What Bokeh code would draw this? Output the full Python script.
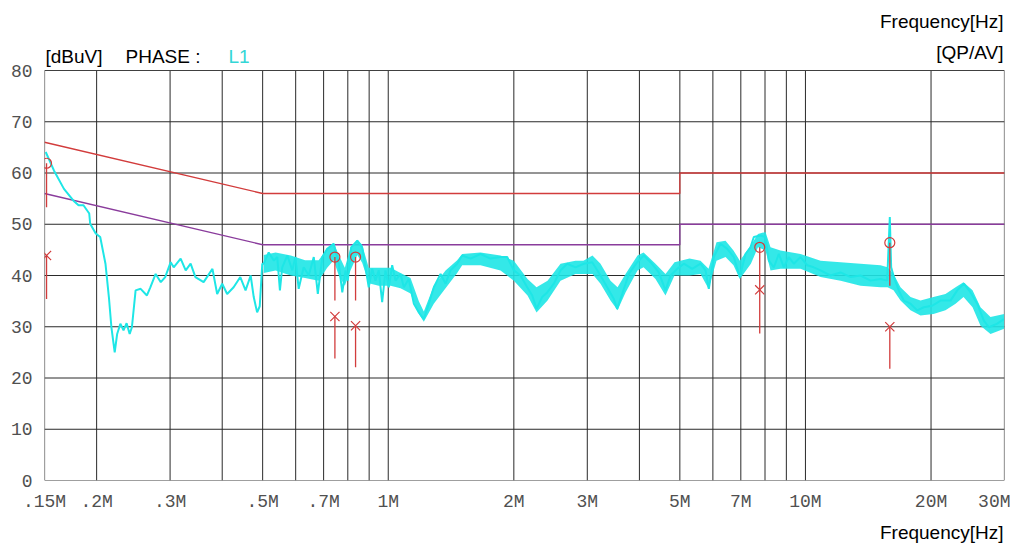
from bokeh.plotting import figure
from bokeh.models import FixedTicker, Range1d
from bokeh.layouts import column
from bokeh.core.properties import value
from bokeh.embed import file_html
from bokeh.resources import INLINE

# ---- data (MHz, dBuV) ----
trace_freq = [0.151, 0.158, 0.167, 0.176, 0.181, 0.186, 0.192, 0.193, 0.199, 0.204,
              0.210, 0.214, 0.217, 0.221, 0.224, 0.228, 0.232, 0.236, 0.240, 0.243,
              0.248, 0.255, 0.264, 0.269, 0.277, 0.285, 0.292, 0.301, 0.306, 0.318,
              0.327, 0.336, 0.345, 0.361, 0.379, 0.389, 0.400, 0.411, 0.426, 0.442,
              0.455, 0.468, 0.476, 0.485, 0.492, 0.499, 0.503, 0.517, 0.532, 0.542,
              0.550, 0.557, 0.573, 0.589, 0.599, 0.610, 0.627, 0.645, 0.663, 0.678,
              0.695, 0.714, 0.740, 0.761, 0.776, 0.790, 0.800, 0.815, 0.843, 0.866,
              0.882, 0.898, 0.915, 0.932, 0.949, 0.967, 0.985, 1.003, 1.022, 1.041,
              1.070, 1.090, 1.120, 1.152, 1.184, 1.217, 1.251, 1.286, 1.335, 1.372,
              1.410, 1.463, 1.504, 1.575, 1.664, 1.758, 1.858, 1.928, 2.000, 2.075,
              2.153, 2.214, 2.267, 2.339, 2.405, 2.494, 2.588, 2.685, 2.811, 2.943,
              3.082, 3.227, 3.348, 3.473, 3.538, 3.637, 3.772, 3.952, 4.098, 4.252,
              4.451, 4.619, 4.749, 4.927, 5.111, 5.353, 5.604, 5.761, 5.867, 6.031,
              6.258, 6.494, 6.734, 6.961, 7.184, 7.384, 7.521, 7.804, 8.022, 8.170,
              8.399, 8.634, 8.876, 9.122, 9.378, 9.732, 10.10, 10.47, 10.87, 11.48,
              12.14, 12.83, 13.55, 14.32, 15.13, 15.70, 15.93, 16.05, 16.29, 16.74,
              17.21, 17.86, 18.53, 19.22, 20.13, 21.08, 22.27, 23.11, 23.97, 24.87,
              25.81, 26.77, 27.52, 28.83, 29.90]
trace_level = [64.1, 60.5, 56.9, 54.6, 53.7, 53.7, 52.1, 50.1, 48.2, 47.5,
               42.3, 35.8, 29.9, 25.0, 28.6, 30.6, 29.3, 30.7, 28.6, 29.9,
               37.1, 37.4, 36.1, 37.7, 40.3, 38.7, 39.7, 42.6, 41.6, 43.3,
               41.0, 42.3, 39.7, 38.7, 41.3, 36.4, 38.4, 36.4, 37.7, 39.7,
               37.1, 40.0, 35.8, 32.8, 34.0, 42.3, 42.3, 44.5, 42.9, 43.6,
               37.1, 41.6, 43.9, 41.0, 43.6, 37.4, 41.6, 40.0, 43.6, 36.4,
               43.6, 45.2, 46.2, 42.3, 36.7, 41.0, 39.0, 45.5, 46.8, 45.5,
               41.6, 37.7, 41.3, 39.0, 41.0, 34.8, 41.0, 37.7, 42.0, 39.0,
               40.3, 37.7, 39.3, 34.5, 32.8, 31.5, 34.5, 37.7, 40.3, 38.4,
               41.0, 42.3, 43.9, 43.3, 44.2, 43.3, 43.6, 43.6, 41.0, 40.0,
               37.7, 36.1, 33.5, 35.8, 36.7, 38.4, 41.0, 42.3, 41.6, 42.3,
               42.6, 40.0, 37.7, 35.4, 33.5, 36.4, 40.3, 42.6, 43.9, 42.6,
               40.6, 37.1, 40.0, 41.3, 42.3, 41.3, 42.3, 41.0, 37.4, 43.6,
               46.2, 45.2, 43.6, 39.7, 44.2, 45.5, 47.5, 47.8, 47.5, 42.9,
               41.6, 44.2, 41.6, 43.6, 42.3, 43.6, 42.0, 41.6, 41.0, 40.0,
               40.6, 39.7, 40.0, 39.0, 39.3, 39.0, 51.4, 41.6, 39.7, 37.1,
               35.1, 34.5, 33.2, 33.8, 34.1, 35.1, 35.1, 37.1, 38.4, 36.7,
               34.5, 31.2, 29.9, 30.6, 31.5]

# noise envelope of the trace (upper / lower edge of the dense band)
band_freq = [0.503, 0.537, 0.584, 0.632, 0.681, 0.714, 0.740, 0.761, 0.787, 0.812,
             0.843, 0.866, 0.898, 0.949, 1.013, 1.070, 1.131, 1.184, 1.217, 1.286,
             1.372, 1.463, 1.504, 1.664, 1.858, 2.000, 2.157, 2.267, 2.409, 2.588,
             2.811, 2.937, 3.087, 3.227, 3.410, 3.545, 3.705, 3.958, 4.093, 4.371,
             4.619, 4.855, 5.274, 5.604, 5.857, 6.121, 6.434, 6.723, 6.961, 7.401,
             7.694, 8.022, 8.247, 8.713, 9.732, 10.87, 12.14, 13.55, 15.13, 15.73,
             16.26, 16.90, 17.86, 18.87, 20.27, 21.66, 22.90, 23.93, 25.15, 26.28,
             27.77, 29.95]
band_hi = [44.0, 44.5, 43.9, 43.0, 43.0, 45.2, 46.4, 44.0, 41.5, 45.5,
           47.0, 46.0, 41.5, 41.5, 41.5, 40.5, 39.5, 35.0, 33.0, 38.0,
           41.0, 43.0, 44.2, 44.5, 43.9, 42.9, 39.3, 37.7, 39.0, 42.3,
           42.9, 42.9, 43.9, 42.3, 39.0, 37.7, 40.3, 43.9, 44.5, 42.3,
           40.3, 42.6, 43.3, 42.9, 41.3, 46.5, 46.8, 44.9, 42.9, 45.9,
           48.1, 48.5, 45.5, 44.9, 44.2, 42.9, 42.6, 42.3, 42.0, 41.6,
           40.3, 37.7, 35.8, 35.1, 35.8, 36.4, 37.7, 38.7, 37.1, 33.8,
           31.9, 32.5]
band_lo = [40.5, 41.0, 40.0, 39.5, 39.0, 41.5, 43.0, 40.0, 38.0, 41.0,
           44.0, 42.5, 38.5, 38.0, 38.0, 37.5, 36.5, 32.5, 31.0, 34.5,
           37.5, 40.5, 42.0, 42.0, 41.0, 39.0, 36.1, 32.8, 35.1, 39.0,
           40.3, 40.3, 40.3, 38.4, 35.1, 33.2, 36.7, 41.0, 41.6, 39.3,
           36.1, 40.0, 40.0, 40.3, 37.4, 42.9, 43.6, 42.0, 39.3, 42.3,
           45.5, 44.9, 41.0, 41.3, 41.3, 39.7, 39.0, 38.0, 37.7, 37.7,
           37.1, 35.1, 33.2, 32.2, 32.5, 33.2, 34.5, 35.8, 33.8, 30.2,
           28.6, 29.6]

qp_limit_freq = [0.15, 0.5, 5.0, 5.0, 30.0]
qp_limit_level = [66, 56, 56, 60, 60]
av_limit_freq = [0.15, 0.5, 5.0, 5.0, 30.0]
av_limit_level = [56, 46, 46, 50, 50]

marker_freq = [0.1517, 0.745, 0.835, 7.77, 15.93]
qp_level = [61.9, 43.6, 43.6, 45.5, 46.4]
qp_stem_low = [53.3, 35.1, 35.1, 37.2, 38.0]
av_level = [43.9, 32.0, 30.2, 37.2, 30.0]
av_stem_low = [35.4, 23.8, 22.1, 28.7, 21.8]

x_tick_values = [0.15, 0.2, 0.3, 0.5, 0.7, 1, 2, 3, 5, 7, 10, 20, 30]
x_tick_labels = [".15M", ".2M", ".3M", ".5M", ".7M", "1M", "2M", "3M", "5M", "7M", "10M", "20M", "30M"]
x_grid_values = [0.2, 0.3, 0.4, 0.5, 0.6, 0.7, 0.8, 0.9, 1, 2, 3, 4, 5, 6, 7, 8, 9, 10, 20]
y_tick_values = [0, 10, 20, 30, 40, 50, 60, 70, 80]
x_min, x_max = 0.15, 30.0
y_min, y_max = 0, 80

# ---- colours ----
CYAN = "#1ee6e6"
RED = "#d23c3c"
PURPLE = "#8a3c9c"
GRID = "#2a2a2a"
BORDER = "#404040"
TICK = "#505050"
SANS = value("Liberation Sans")
FS = "19px"

W = 1010
PX_PER_DB = 410 / 80.0          # frame: 80 dB over 410 px
TOP_ROOM = 70 / PX_PER_DB       # header room above 80 dB, in dB units

# main chart: the frame also holds the header strip above 80 dB
p = figure(width=W, height=520, x_axis_type="log",
           x_range=Range1d(x_min, x_max), y_range=Range1d(y_min, y_max + TOP_ROOM),
           output_backend="svg", toolbar_location=None,
           min_border_left=44, min_border_right=6, min_border_top=0, min_border_bottom=40)
p.outline_line_color = None
p.xgrid.visible = False
p.ygrid.visible = False

p.xaxis.ticker = FixedTicker(ticks=x_tick_values)
p.xaxis.major_label_overrides = {v: l for v, l in zip(x_tick_values, x_tick_labels)}
p.yaxis.ticker = FixedTicker(ticks=y_tick_values)
for ax in (p.xaxis[0], p.yaxis[0]):
    ax.axis_line_color = None
    ax.major_tick_line_color = None
    ax.minor_tick_line_color = None
    ax.major_tick_out = 0
    ax.major_tick_in = 0
    ax.minor_tick_out = 0
    ax.major_label_text_font = "Liberation Mono"
    ax.major_label_text_font_size = "18px"
    ax.major_label_text_color = TICK
p.xaxis.major_label_standoff = 11
p.yaxis.major_label_standoff = 12

# grid and plot box limited to the 0..80 dB area
p.segment(x0=x_grid_values, y0=y_min, x1=x_grid_values, y1=y_max, line_color=GRID, line_width=1)
p.segment(x0=x_min, y0=y_tick_values[1:-1], x1=x_max, y1=y_tick_values[1:-1], line_color=GRID, line_width=1)
p.segment(x0=[x_min, x_max, x_min, x_min], y0=[y_min, y_min, y_min, y_max],
          x1=[x_min, x_max, x_max, x_max], y1=[y_max, y_max, y_min, y_max],
          line_color=BORDER, line_width=1.2)

p.line(qp_limit_freq, qp_limit_level, line_color=RED, line_width=1.3)
p.line(av_limit_freq, av_limit_level, line_color=PURPLE, line_width=1.3)
p.varea(x=band_freq, y1=band_lo, y2=band_hi, fill_color=CYAN, fill_alpha=0.9)
p.line(trace_freq, trace_level, line_color=CYAN, line_width=2)

p.segment(x0=marker_freq, y0=qp_level, x1=marker_freq, y1=qp_stem_low, line_color=RED, line_width=1.3)
p.segment(x0=marker_freq, y0=av_level, x1=marker_freq, y1=av_stem_low, line_color=RED, line_width=1.3)
p.scatter(marker_freq, qp_level, marker="circle", size=10, fill_color=None, line_color=RED, line_width=1.2)
p.scatter(marker_freq, av_level, marker="x", size=13, line_color=RED, line_width=1.2)

# header texts (above the 80 dB line)
hdr_y = y_max + 14.2 / PX_PER_DB
p.text(x=[x_min], y=[hdr_y], text=["[dBuV]"], x_offset=1, text_font=SANS, text_font_size=FS,
       text_color="black", text_baseline="middle", text_align="left")
p.text(x=[x_min], y=[hdr_y], text=["PHASE :"], x_offset=81, text_font=SANS, text_font_size=FS,
       text_color="black", text_baseline="middle", text_align="left")
p.text(x=[x_min], y=[hdr_y], text=["L1"], x_offset=184, text_font=SANS, text_font_size=FS,
       text_color="#33d6d6", text_baseline="middle", text_align="left")
p.text(x=[x_max, x_max], y=[y_max + 49.2 / PX_PER_DB, y_max + 18 / PX_PER_DB],
       text=["Frequency[Hz]", "[QP/AV]"], x_offset=-1, text_font=SANS, text_font_size=FS,
       text_color="black", text_baseline="middle", text_align="right")

# footer strip (frame is aligned with the chart's frame: page x 44..1004)
ftr = figure(width=W, height=26, x_range=Range1d(44, 1004), y_range=Range1d(26, 0),
             x_axis_location=None, y_axis_location=None, min_border=0,
             output_backend="svg", toolbar_location=None)
ftr.grid.visible = False
ftr.outline_line_color = None
ftr.text(x=[1003], y=[12], text=["Frequency[Hz]"], text_font=SANS,
         text_font_size=FS, text_color="black", text_baseline="alphabetic", text_align="right")

layout = column(p, ftr, spacing=0)
open("out.html", "w").write(file_html(layout, INLINE))
